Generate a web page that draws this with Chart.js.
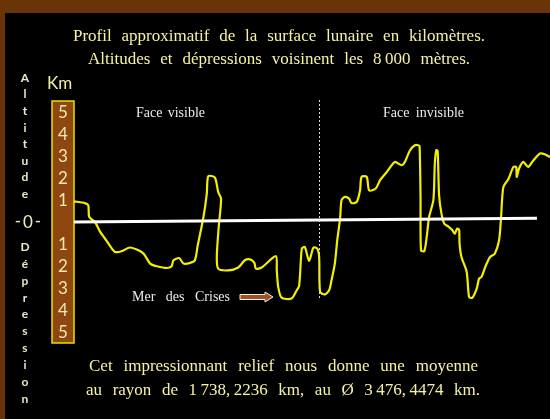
<!DOCTYPE html>
<html>
<head>
<meta charset="utf-8">
<script src="https://cdn.jsdelivr.net/npm/chart.js@4/dist/chart.umd.min.js"></script>
<style>
  html, body { margin: 0; padding: 0; background: #000; }
  canvas { display: block; }
</style>
</head>
<body>
<canvas id="profil" width="550" height="419"></canvas>
<script>
// Profil lunaire — position le long du profil (% du tour) et altitude en km
const positions = [
  0, 2.3, 3.0, 3.2, 4.4, 5.5, 6.5, 7.6, 8.6, 10.0, 11.8, 14.5, 16.0, 17.4, 19.5, 20.5, 20.9, 22.1, 23.0, 24.4,
  25.4, 26.0, 27.2, 27.9, 28.2, 29.6, 30.3, 30.9, 30.4, 30.0, 30.3, 32.4, 34.5, 35.9, 37.0, 37.9, 38.2, 39.4,
  42.4, 42.6, 42.9, 43.6, 45.7, 46.8, 47.3, 47.7, 47.9, 48.5, 49.4, 50.3, 51.1, 51.5, 51.7, 52.7, 53.6, 54.1,
  54.8, 55.3, 55.9, 56.2, 56.9, 57.8, 58.3, 59.4, 60.1, 60.4, 61.5, 62.0, 63.4, 64.3, 65.7, 67.4, 68.8, 69.5,
  70.6, 71.6, 72.3, 72.6, 72.8, 72.9, 73.6, 74.1, 74.6, 75.5, 75.8, 76.1, 76.4, 76.7, 77.2, 77.8, 78.6, 79.5,
  80.0, 80.5, 80.9, 81.0, 81.4, 82.5, 83.0, 83.7, 84.6, 85.1, 85.6, 86.2, 86.7, 87.4, 88.4, 89.3, 89.7, 90.2,
  91.3, 92.3, 92.9, 93.0, 93.5, 94.4, 95.4, 96.5, 97.9, 98.9, 100
];
const altitudes = [
  0.94, 0.86, 0.76, 0.23, 0.0, -0.45, -0.75, -1.1, -1.36, -1.33, -1.16, -1.41, -1.89, -2.01, -2.09, -2.01, -1.74, -1.64, -1.89, -1.86,
  -1.74, -1.06, 0.23, 1.29, 2.08, 2.02, 1.36, 1.06, -0.23, -1.59, -2.12, -2.2, -2.07, -1.74, -1.7, -1.86, -2.12, -2.07,
  -1.55, -2.2, -2.95, -3.44, -3.48, -3.1, -2.9, -1.6, -1.2, -1.14, -1.77, -1.16, -1.21, -1.59, -3.18, -3.29, -3.1, -2.65,
  -1.89, -0.83, 0.15, 0.99, 1.14, 1.06, 0.86, 0.91, 1.44, 2.05, 2.05, 1.44, 1.52, 1.9, 2.27, 2.73, 2.58, 2.73,
  3.26, 3.49, 3.49, 3.44, 1.14, -1.29, -1.32, -0.68, 0.23, 0.99, 2.65, 3.26, 3.23, 1.21, 0.38, -0.08, -0.2, -0.38,
  -0.53, -0.3, -0.35, -0.98, -1.59, -2.27, -3.41, -3.44, -3.03, -2.57, -2.5, -2.16, -1.89, -1.59, -1.44, -0.83, 0.15, 1.59,
  1.97, 2.5, 2.5, 2.05, 2.43, 2.73, 2.5, 2.8, 3.11, 3.08, 2.95
];
// graduations de la règle (altitude positive en haut, dépression en bas)
const tickValues = [5, 4, 3, 2, 1, -1, -2, -3, -4, -5];
const tickLabels = ['5', '4', '3', '2', '1', '1', '2', '3', '4', '5'];
const faceLimit = 51.4; // séparation face visible / face invisible

const titleLines = [
  'Profil approximatif de la surface lunaire en kilomètres.',
  'Altitudes et dépressions voisinent les 8\u202F000 mètres.'
];
const footerLines = [
  'Cet impressionnant relief nous donne une moyenne',
  'au rayon de 1\u202F738,\u202F2236 km, au Ø 3\u202F476,\u202F4474 km.'
];

const SERIF = "'Liberation Serif', 'DejaVu Serif', serif";
const SANS = "Lato, 'Open Sans', sans-serif";

// texte étalé sur une largeur donnée (espaces larges comme dans l'original)
function spreadText(ctx, text, cx, cy, width) {
  const words = text.split(' ');
  const widths = words.map(w => ctx.measureText(w).width);
  const total = widths.reduce((a, b) => a + b, 0);
  const gap = words.length > 1 ? (width - total) / (words.length - 1) : 0;
  let x = cx - width / 2;
  ctx.textAlign = 'left';
  ctx.textBaseline = 'middle';
  words.forEach((w, i) => {
    ctx.fillText(w, x, cy);
    x += widths[i] + gap;
  });
}

const decor = {
  id: 'decor',
  beforeDraw(chart) {
    const ctx = chart.ctx;
    const y = chart.scales.y;
    ctx.save();
    ctx.fillStyle = '#000';
    ctx.fillRect(0, 0, chart.width, chart.height);
    // cadre brun
    ctx.fillStyle = '#693508';
    ctx.fillRect(0, 0, chart.width, 13);
    ctx.fillRect(0, 0, 5, chart.height);

    // titres
    ctx.fillStyle = '#f6f2a4';
    ctx.font = '17px ' + SERIF;
    spreadText(ctx, titleLines[0], 279, 37, 412);
    spreadText(ctx, titleLines[1], 279, 60, 382);
    spreadText(ctx, footerLines[0], 283.5, 367, 389);
    spreadText(ctx, footerLines[1], 283, 391, 394);

    // règle brune
    const top = y.getPixelForValue(5.5), bot = y.getPixelForValue(-5.5);
    ctx.fillStyle = '#8e470f';
    ctx.fillRect(52, top, 22, bot - top);
    ctx.strokeStyle = '#e9e000';
    ctx.lineWidth = 1.5;
    ctx.strokeRect(52, top, 22, bot - top);
    ctx.fillStyle = '#f3e8b4';
    ctx.font = '17px ' + SANS;
    ctx.textAlign = 'center';
    ctx.textBaseline = 'middle';
    tickValues.forEach((v, i) => ctx.fillText(tickLabels[i], 63, y.getPixelForValue(v) + 1));

    ctx.fillStyle = '#f2eea0';
    ctx.font = '17px ' + SANS;
    ctx.textAlign = 'left';
    ctx.fillText('Km', 47, 84);

    // -0-
    ctx.fillStyle = '#f0ecc4';
    ctx.textAlign = 'center';
    const y0 = y.getPixelForValue(0);
    ctx.fillText('0', 28, y0 + 1);
    ctx.fillText('-', 18, y0);
    ctx.fillText('-', 38, y0);

    // légende verticale
    ctx.font = 'bold 12px ' + SANS;
    ctx.fillStyle = '#ece8cc';
    'Altitude'.split('').forEach((c, i) => ctx.fillText(c, 25, 78 + i * 16.6));
    'Dépression'.split('').forEach((c, i) => ctx.fillText(c, 25, 247 + i * 16.9));

    // libellés
    ctx.fillStyle = '#ececec';
    ctx.font = '14px ' + SERIF;
    spreadText(ctx, 'Face visible', 170.5, 113, 69);
    spreadText(ctx, 'Face invisible', 423.5, 113, 81);
    spreadText(ctx, 'Mer des Crises', 181, 297, 98);

    // flèche
    ctx.beginPath();
    ctx.moveTo(240, 294.5); ctx.lineTo(265, 294.5); ctx.lineTo(265, 292);
    ctx.lineTo(273, 297); ctx.lineTo(265, 302); ctx.lineTo(265, 299.5);
    ctx.lineTo(240, 299.5); ctx.closePath();
    ctx.fillStyle = '#a0521e';
    ctx.fill();
    ctx.strokeStyle = '#f0f0f0';
    ctx.lineWidth = 1;
    ctx.stroke();
    ctx.restore();
  },
  afterDatasetsDraw(chart) {
    const ctx = chart.ctx;
    const x = chart.scales.x, y = chart.scales.y;
    ctx.save();
    // ligne du zéro
    ctx.strokeStyle = '#ffffff';
    ctx.lineWidth = 3;
    ctx.beginPath();
    ctx.moveTo(chart.chartArea.left, y.getPixelForValue(0));
    ctx.lineTo(537, y.getPixelForValue(0.17));
    ctx.stroke();
    // séparation des faces
    const xs = Math.round(x.getPixelForValue(faceLimit)) + 0.5;
    ctx.strokeStyle = '#d8d8d8';
    ctx.lineWidth = 1;
    ctx.setLineDash([2, 2]);
    ctx.beginPath();
    ctx.moveTo(xs, 100);
    ctx.lineTo(xs, 300);
    ctx.stroke();
    ctx.restore();
  }
};

new Chart(document.getElementById('profil').getContext('2d'), {
  type: 'line',
  data: {
    datasets: [{
      data: positions.map((p, i) => ({ x: p, y: altitudes[i] })),
      borderColor: '#f2f000',
      borderWidth: 2.2,
      pointRadius: 0,
      tension: 0.25,
      fill: false,
      clip: false,
    }]
  },
  options: {
    responsive: false,
    animation: false,
    layout: { padding: { left: 74, right: 0, top: 101, bottom: 76 } },
    plugins: { legend: { display: false }, tooltip: { enabled: false } },
    scales: {
      x: { type: 'linear', min: 0, max: 100, display: false },
      y: { min: -5.5, max: 5.5, display: false }
    }
  },
  plugins: [decor]
});
</script>
</body>
</html>
